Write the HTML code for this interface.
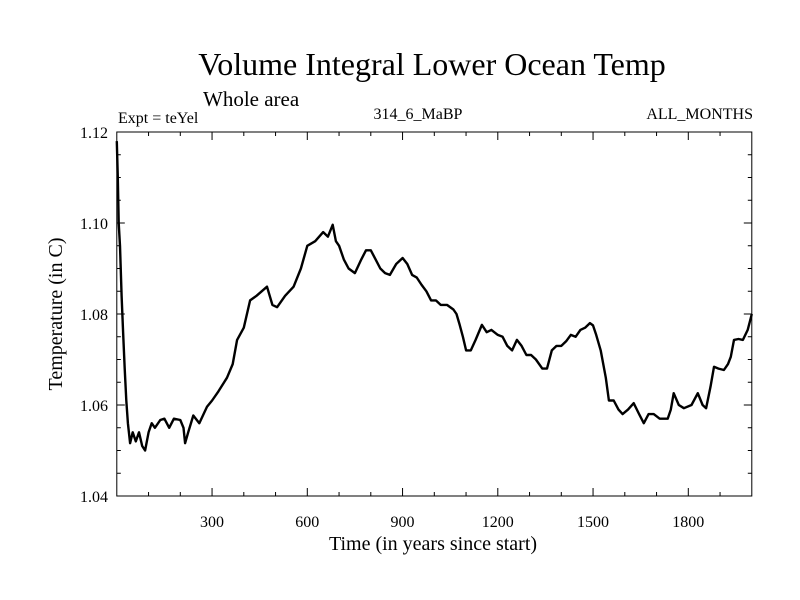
<!DOCTYPE html>
<html><head><meta charset="utf-8"><style>
body{margin:0;background:#fff}
svg{display:block}
text{font-family:"Liberation Serif",serif;fill:#000}
</style></head><body>
<svg id="chart" width="800" height="600">
<text x="432" y="75" font-size="32" text-anchor="middle">Volume Integral Lower Ocean Temp</text>
<text x="203" y="106" font-size="21">Whole area</text>
<text x="118" y="123" font-size="16">Expt = teYel</text>
<text x="418" y="119" font-size="16" text-anchor="middle">314_6_MaBP</text>
<text x="753" y="119" font-size="16" text-anchor="end">ALL_MONTHS</text>
<text x="433" y="550" font-size="20" text-anchor="middle">Time (in years since start)</text>
<text transform="translate(62,314) rotate(-90)" font-size="20" text-anchor="middle">Temperature (in C)</text>
<g id="axes"></g>
<path id="line" fill="none" stroke="#000" stroke-width="2.4" stroke-linejoin="round"/>
<rect x="116.8" y="132" width="635" height="364" fill="none" stroke="#000" stroke-width="1"/>
</svg>
<script>
const xTicks=[300,600,900,1200,1500,1800];
const yTicks=[1.04,1.06,1.08,1.10,1.12];
const yTickLabels=["1.04","1.06","1.08","1.10","1.12"];
const years=[0,3,6,10,15,20,25,30,35,42,50,60,70,80,89,100,110,120,137,150,165,180,200,210,215,225,241,260,284,300,320,347,365,379,400,420,440,473,490,505,530,557,580,600,625,650,665,680,690,700,715,730,750,770,785,800,815,830,845,860,880,900,915,930,945,960,975,990,1005,1020,1040,1060,1070,1080,1090,1100,1115,1130,1150,1165,1180,1200,1215,1230,1245,1260,1275,1290,1305,1320,1340,1355,1370,1385,1400,1415,1430,1445,1460,1475,1490,1500,1510,1524,1540,1550,1565,1580,1593,1610,1628,1645,1660,1675,1691,1710,1735,1745,1754,1770,1786,1810,1830,1845,1856,1870,1881,1895,1912,1925,1934,1944,1958,1972,1987,2000];
const temps=[1.118,1.110,1.100,1.095,1.084,1.076,1.068,1.061,1.056,1.0516,1.054,1.052,1.054,1.051,1.050,1.054,1.056,1.055,1.0567,1.057,1.055,1.057,1.0567,1.055,1.0516,1.054,1.0577,1.056,1.0596,1.061,1.063,1.066,1.069,1.0743,1.077,1.083,1.084,1.086,1.082,1.0815,1.084,1.086,1.090,1.095,1.096,1.098,1.097,1.0996,1.096,1.095,1.092,1.090,1.089,1.092,1.094,1.094,1.092,1.090,1.089,1.0886,1.091,1.0923,1.091,1.0886,1.088,1.0864,1.085,1.083,1.083,1.082,1.082,1.081,1.080,1.0776,1.075,1.072,1.072,1.0743,1.0776,1.076,1.0765,1.0754,1.075,1.073,1.072,1.0743,1.073,1.071,1.071,1.070,1.068,1.068,1.072,1.073,1.073,1.074,1.0754,1.075,1.0765,1.077,1.078,1.0775,1.0754,1.072,1.066,1.061,1.061,1.059,1.058,1.059,1.0604,1.058,1.056,1.058,1.058,1.057,1.057,1.059,1.0626,1.060,1.0593,1.060,1.0626,1.060,1.0593,1.064,1.0684,1.068,1.0677,1.069,1.0706,1.0743,1.0745,1.0743,1.0765,1.080];
const X=v=>116.8+(v/2000)*635;
const Y=v=>132+(1.12-v)/0.08*364;
const ns="http://www.w3.org/2000/svg";
const axes=document.getElementById('axes');
function ln(x1,y1,x2,y2,name){const l=document.createElementNS(ns,'line');l.setAttribute('x1',x1);l.setAttribute('y1',y1);l.setAttribute('x2',x2);l.setAttribute('y2',y2);l.setAttribute('stroke','#000');l.setAttribute('stroke-width','1');


axes.appendChild(l);}
for(let v=100;v<2000;v+=100){const x=X(v);const m=v%300===0?8:4;ln(x,496,x,496-m,'x-tick');ln(x,132,x,132+m,'x-tick-top');}
for(let i=0;i<=16;i++){const v=1.04+i*0.005;const y=Y(v);const m=i%4===0?8:4;ln(116.8,y,116.8+m,y,'y-tick');ln(751.8,y,751.8-m,y,'y-tick-right');}
xTicks.forEach(v=>{const t=document.createElementNS(ns,'text');t.setAttribute('x',X(v));t.setAttribute('y',527);t.setAttribute('font-size','16');t.setAttribute('text-anchor','middle');t.textContent=v;


axes.appendChild(t);});
yTicks.forEach((v,i)=>{const t=document.createElementNS(ns,'text');t.setAttribute('x',108);t.setAttribute('y',Y(v)+6);t.setAttribute('font-size','16');t.setAttribute('text-anchor','end');t.textContent=yTickLabels[i];


axes.appendChild(t);});
document.getElementById('line').setAttribute('d',years.map((yr,i)=>(i?'L':'M')+X(yr).toFixed(1)+','+Y(temps[i]).toFixed(1)).join(''));
</script>
</body></html>
